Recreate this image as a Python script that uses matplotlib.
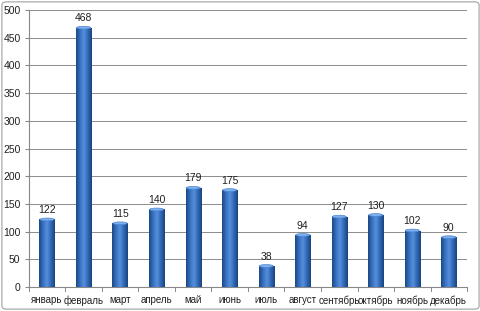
import numpy as np
import matplotlib.pyplot as plt
from matplotlib.colors import LinearSegmentedColormap
from matplotlib.patches import Ellipse, FancyBboxPatch

months = ['январь', 'февраль', 'март', 'апрель', 'май', 'июнь',
          'июль', 'август', 'сентябрь', 'октябрь', 'ноябрь', 'декабрь']
values = [122, 468, 115, 140, 179, 175, 38, 94, 127, 130, 102, 90]
yticks = [0, 50, 100, 150, 200, 250, 300, 350, 400, 450, 500]

plt.rcParams['font.family'] = ['Liberation Sans Narrow', 'Liberation Sans', 'DejaVu Sans']

fig = plt.figure(figsize=(4.81, 3.11), dpi=100)
ax = fig.add_axes([0.060, 0.077, 0.911, 0.891])

# рамка вокруг всей диаграммы
fig.patches.append(FancyBboxPatch((0.004, 0.006), 0.992, 0.988,
                                  boxstyle='round,pad=0,rounding_size=0.01',
                                  transform=fig.transFigure, fill=False,
                                  edgecolor='#a0a0a0', lw=0.8))

x = np.arange(len(months))
w = 0.42
bars = ax.bar(x, values, width=w, color='#3a72c0', zorder=2)

# цилиндрический градиент
cmap = LinearSegmentedColormap.from_list('cyl', ['#1c4784', '#3670bf', '#5690dc', '#3068b5', '#1a4480'])
grad = np.linspace(0, 1, 64).reshape(1, -1)
for b, v in zip(bars, values):
    x0 = b.get_x()
    im = ax.imshow(grad, cmap=cmap, aspect='auto', extent=[x0, x0 + w, 0, v],
                   zorder=3, interpolation='bilinear')
    im.set_clip_path(b)
    ax.add_patch(Ellipse((b.get_x() + w / 2, v), w * 0.92, 5, facecolor='#7fb0ee',
                         edgecolor='#4a84d0', lw=0.5, zorder=4))
    ax.text(b.get_x() + w / 2, v + 8, str(v), ha='center', va='bottom',
            fontsize=7.5, color='#202020', zorder=5)

ax.set_xlim(-0.5, len(months) - 0.5)
ax.set_ylim(0, 500)
ax.set_yticks(yticks)
ax.set_xticks(x)
ax.set_xticklabels(months)
ax.tick_params(axis='x', labelsize=7, colors='#202020', length=0, pad=6)
ax.tick_params(axis='y', labelsize=7.5, colors='#202020', length=3,
               color='#888888', direction='out', pad=3)
ax.grid(axis='y', color='#8c8c8c', lw=0.7, zorder=0)
ax.set_axisbelow(True)
for s in ['top', 'right']:
    ax.spines[s].set_visible(False)
ax.spines['left'].set_color('#888888')
ax.spines['bottom'].set_color('#888888')

# засечки между категориями
for xs in np.arange(-0.5, len(months), 1):
    ax.plot([xs, xs], [0, -7], color='#888888', lw=0.7, clip_on=False)

fig.savefig('out.png', dpi=100)
